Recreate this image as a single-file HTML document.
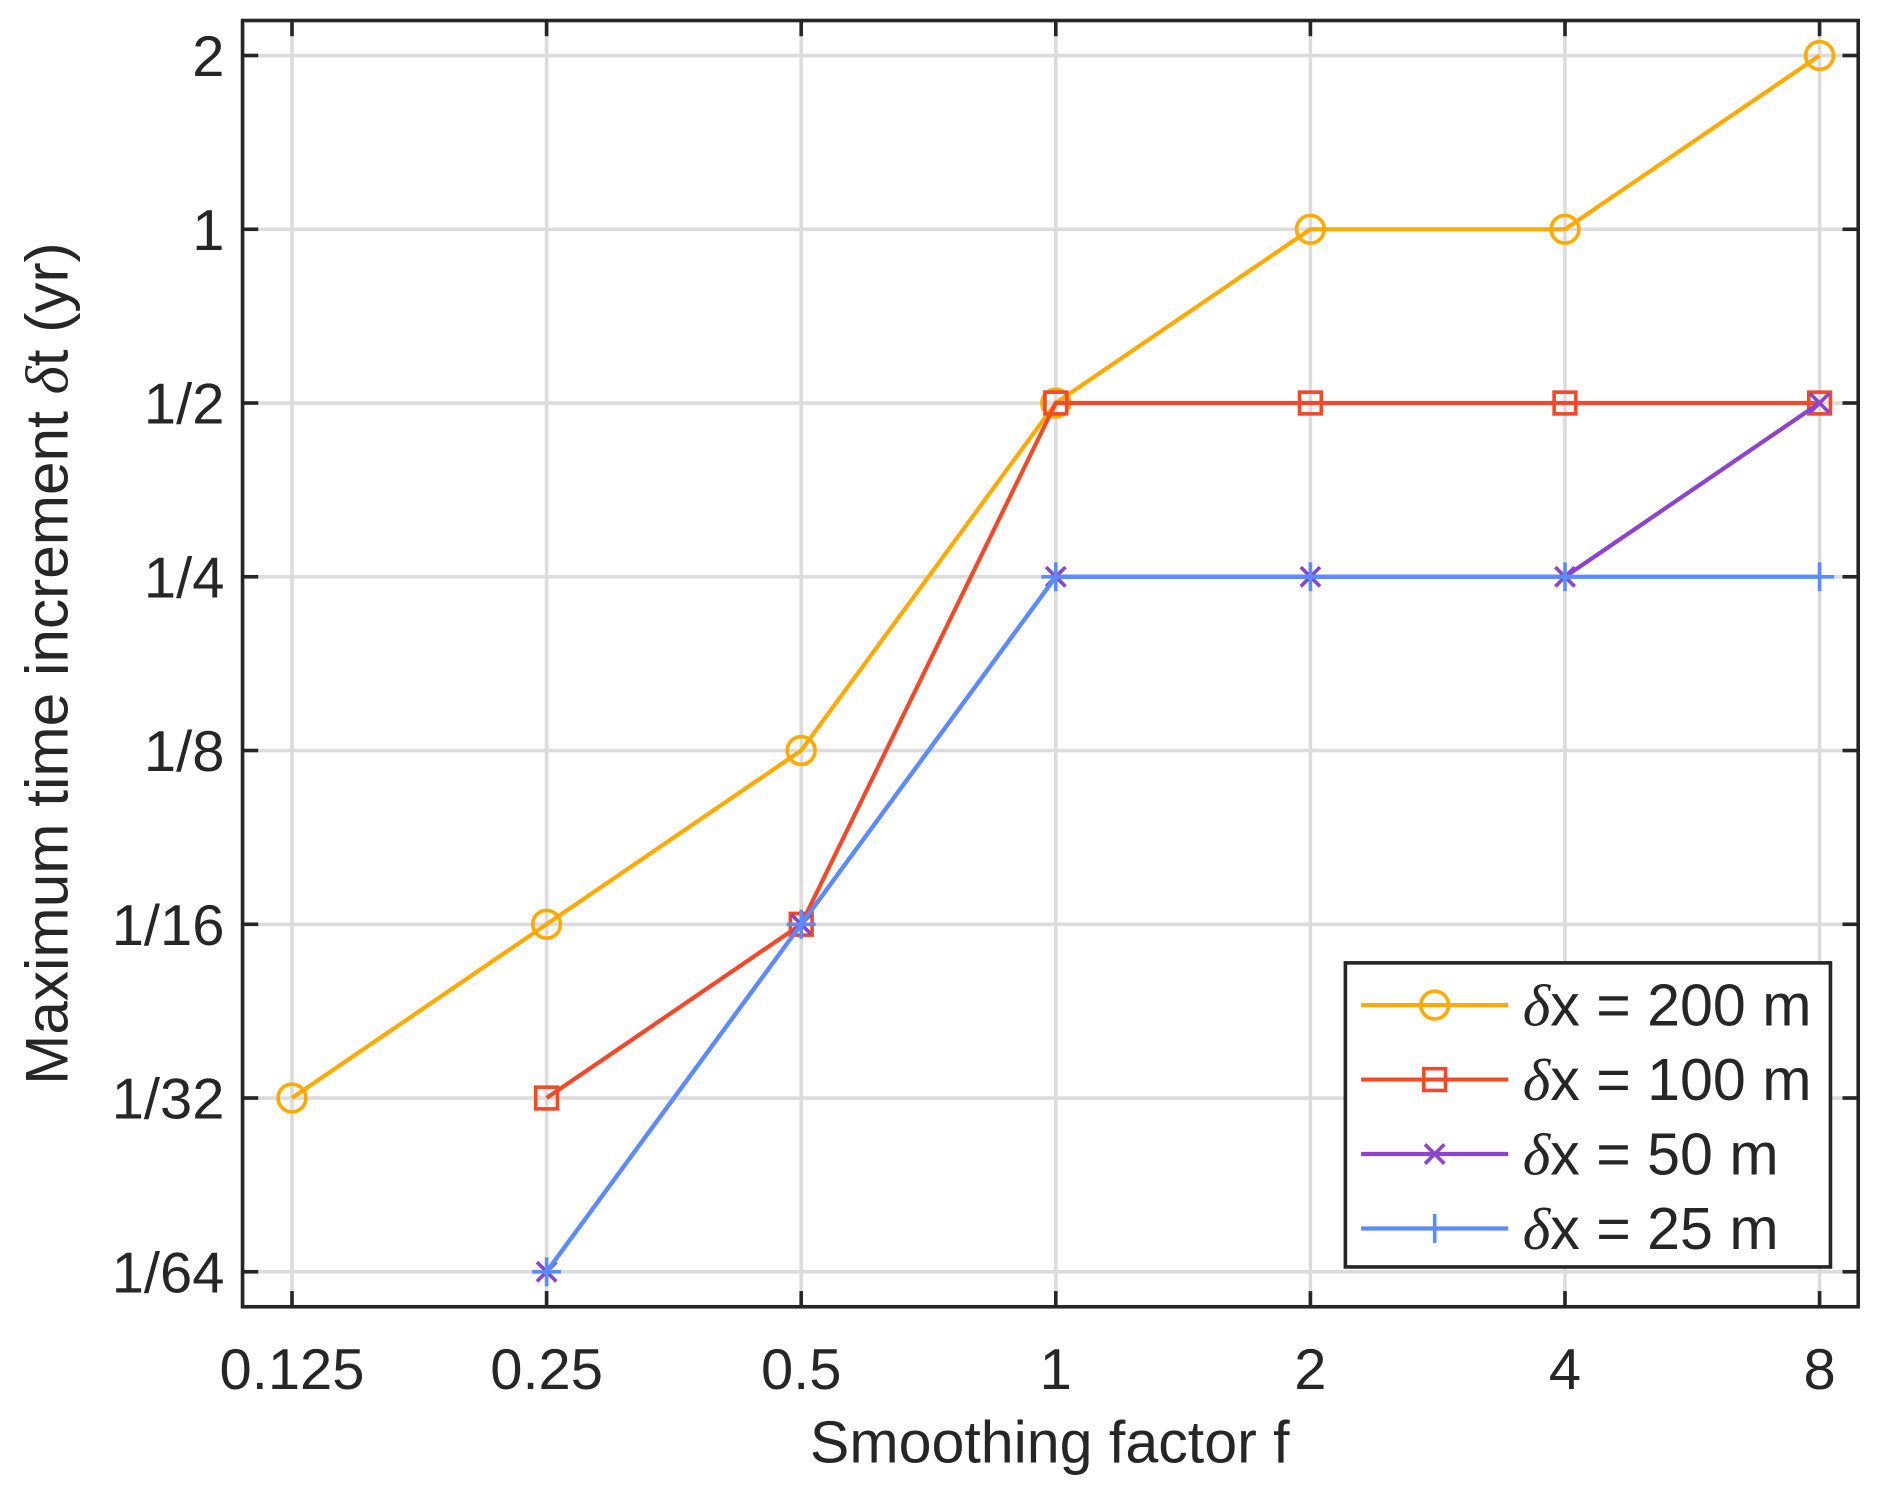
<!DOCTYPE html>
<html><head><meta charset="utf-8"><style>
html,body{margin:0;padding:0;background:#fff;}
svg{display:block;}
text{font-family:"Liberation Sans",sans-serif;fill:#262626;}
</style></head><body>
<svg id="chart" width="1892" height="1495" viewBox="0 0 1568 1239" xmlns="http://www.w3.org/2000/svg">
<rect x="0" y="0" width="1568" height="1239" fill="#fff"/>
<g id="grid"></g>
<g id="series"></g>
<rect x="201" y="17" width="1339" height="1066" fill="none" stroke="#262626" stroke-width="3"/>
<g id="ticks"></g>
<text x="870" y="1212" font-size="49" text-anchor="middle">Smoothing factor f</text>
<text transform="translate(56,550) rotate(-90)" font-size="50" text-anchor="middle">Maximum time increment  <tspan font-family="Liberation Serif" font-style="italic">δ</tspan>t (yr)</text>
<g id="legend"></g>
</svg>
<script>
const xTicks=[0.125,0.25,0.5,1,2,4,8];
const xLabels=["0.125","0.25","0.5","1","2","4","8"];
const yTicks=[2,1,0.5,0.25,0.125,0.0625,0.03125,0.015625];
const yLabels=["2","1","1/2","1/4","1/8","1/16","1/32","1/64"];
const fVals=[0.125,0.25,0.5,1,2,4,8];
const s200=[1/32,1/16,1/8,1/2,1,1,2];
const s100=[null,1/32,1/16,1/2,1/2,1/2,1/2];
const s50=[null,1/64,1/16,1/4,1/4,1/4,1/2];
const s25=[null,1/64,1/16,1/4,1/4,1/4,1/4];
const names=["δx = 200 m","δx = 100 m","δx = 50 m","δx = 25 m"];
const NS="http://www.w3.org/2000/svg";
function X(v){return 242+211*(Math.log2(v)+3);}
function Y(v){return 46+144*(1-Math.log2(v));}
function mk(tag,attrs,parent){const e=document.createElementNS(NS,tag);for(const k in attrs)e.setAttribute(k,attrs[k]);parent.appendChild(e);return e;}
const grid=document.getElementById('grid'),ticks=document.getElementById('ticks'),ser=document.getElementById('series'),leg=document.getElementById('legend');
xTicks.forEach((v,i)=>{const x=X(v);
 const g=mk('line',{x1:x,x2:x,y1:17,y2:1083,stroke:'#dcdcdc','stroke-width':3},grid);
 
 mk('line',{x1:x,x2:x,y1:1083,y2:1070,stroke:'#262626','stroke-width':3},ticks);
 mk('line',{x1:x,x2:x,y1:17,y2:30,stroke:'#262626','stroke-width':3},ticks);
 const t=mk('text',{x:x,y:1151,'font-size':48,'text-anchor':'middle'},ticks);t.textContent=xLabels[i];
 });
yTicks.forEach((v,i)=>{const y=Y(v);
 const g=mk('line',{x1:201,x2:1540,y1:y,y2:y,stroke:'#dcdcdc','stroke-width':3},grid);
 
 mk('line',{x1:201,x2:214,y1:y,y2:y,stroke:'#262626','stroke-width':3},ticks);
 mk('line',{x1:1540,x2:1527,y1:y,y2:y,stroke:'#262626','stroke-width':3},ticks);
 const t=mk('text',{x:186,y:y+17,'font-size':48,'text-anchor':'end'},ticks);t.textContent=yLabels[i];
 });
function marker(type,x,y,c,p){
 if(type==='o')mk('circle',{cx:x,cy:y,r:11.5,fill:'none',stroke:c,'stroke-width':3},p);
 else if(type==='s')mk('rect',{x:x-9,y:y-9,width:18,height:18,fill:'none',stroke:c,'stroke-width':3},p);
 else if(type==='x'){mk('line',{x1:x-8,y1:y-8,x2:x+8,y2:y+8,stroke:c,'stroke-width':3},p);mk('line',{x1:x-8,y1:y+8,x2:x+8,y2:y-8,stroke:c,'stroke-width':3},p);}
 else {mk('line',{x1:x-12,y1:y,x2:x+12,y2:y,stroke:c,'stroke-width':3},p);mk('line',{x1:x,y1:y-12,x2:x,y2:y+12,stroke:c,'stroke-width':3},p);}
}
const defs=[[s200,'#FFAA00','o','series-200m'],[s100,'#F04A2A','s','series-100m'],[s50,'#8C44CC','x','series-50m'],[s25,'#5B8CFF','+','series-25m']];
defs.forEach(([d,c,m,n])=>{const g=mk('g',{},ser);
 
 const pts=[];d.forEach((v,i)=>{if(v!=null)pts.push([X(fVals[i]),Y(v)]);});
 mk('polyline',{points:pts.map(p=>p.join(',')).join(' '),fill:'none',stroke:c,'stroke-width':3.5},g);
 pts.forEach(p=>marker(m,p[0],p[1],c,g));});
const lb=mk('rect',{x:1115,y:798,width:402,height:252,fill:'#fff',stroke:'#262626','stroke-width':3},leg);

defs.forEach(([d,c,m,n],i)=>{const y=833+i*61.7;const g=mk('g',{},leg);
 
 mk('line',{x1:1128,x2:1250,y1:y,y2:y,stroke:c,'stroke-width':3.5},g);marker(m,1189,y,c,g);
 const t=mk('text',{x:1262,y:y+17,'font-size':49,fill:'#000'},g);
 const ts=mk('tspan',{'font-family':'Liberation Serif','font-style':'italic'},t);ts.textContent='δ';
 t.appendChild(document.createTextNode(names[i].slice(1)));});
</script>
</body></html>
